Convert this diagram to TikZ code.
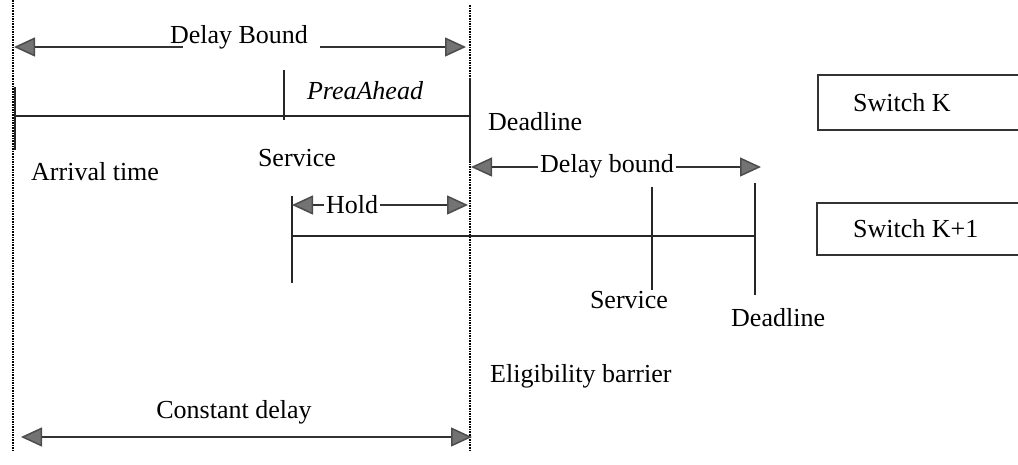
\documentclass[tikz,border=0pt]{standalone}
\usepackage{fontspec}
\setmainfont{Liberation Serif}
\usetikzlibrary{arrows.meta}
\begin{document}
\begin{tikzpicture}[x=1pt,y=-1pt,
  font=\fontsize{26}{30}\selectfont,
  >={Triangle[length=21pt,width=19pt,fill=black!55,color=black!70]},
  timeline/.style={line width=2pt, black!85},
  barrier/.style={line width=2.4pt, black, dash pattern=on 1.6pt off 1pt},
  dimline/.style={line width=1.5pt, black!80, <->},
  halfdim/.style={line width=1.5pt, black!80, ->},
  lbl/.style={inner sep=1pt},
  onlinelbl/.style={inner sep=2pt, fill=white},
  switchbox/.style={line width=1.8pt, black!80}]
\useasboundingbox (0,0) rectangle (1018,465);

% eligibility barriers (dotted verticals)
\coordinate (bl0) at (13,0);   \coordinate (bl1) at (13,452);
\coordinate (br0) at (470,5);  \coordinate (br1) at (470,452);
\draw[barrier] (bl0) -- (bl1);
\draw[barrier] (br0) -- (br1);

% switch K timeline and ticks
\coordinate (k0) at (15,116);  \coordinate (k1) at (470,116);
\draw[timeline] (k0) -- (k1);
\coordinate (ta0) at (15,87);   \coordinate (ta1) at (15,150);
\coordinate (ts0) at (284,70);  \coordinate (ts1) at (284,120);
\coordinate (td0) at (470,78);  \coordinate (td1) at (470,162);
\draw[timeline] (ta0) -- (ta1);
\draw[timeline] (ts0) -- (ts1);
\draw[timeline] (td0) -- (td1);

% switch K+1 timeline and ticks
\coordinate (m0) at (292,236);  \coordinate (m1) at (755,236);
\draw[timeline] (m0) -- (m1);
\coordinate (ua0) at (292,196); \coordinate (ua1) at (292,283);
\coordinate (us0) at (652,187); \coordinate (us1) at (652,290);
\coordinate (ud0) at (755,183); \coordinate (ud1) at (755,295);
\draw[timeline] (ua0) -- (ua1);
\draw[timeline] (us0) -- (us1);
\draw[timeline] (ud0) -- (ud1);

% Delay Bound (top)
\node[lbl] (dbtop) at (239,37) {Delay Bound};
\coordinate (dbL) at (14,47);  \coordinate (dbLg) at (183,47);
\coordinate (dbR) at (466,47); \coordinate (dbRg) at (320,47);
\draw[halfdim] (dbLg) -- (dbL);
\draw[halfdim] (dbRg) -- (dbR);

% Delay bound (switch K+1)
\coordinate (dkL) at (471,167); \coordinate (dkR) at (761,167);
\draw[dimline] (dkL) -- (dkR);
\node[onlinelbl] (dbk) at (607,166) {Delay bound};

% Hold
\coordinate (hL) at (292,205); \coordinate (hR) at (468,205);
\draw[dimline] (hL) -- (hR);
\node[onlinelbl] (hold) at (352,205) {Hold};

% Constant delay
\coordinate (cL) at (21,437); \coordinate (cR) at (472,437);
\draw[dimline] (cL) -- (cR);
\node[lbl] (cdel) at (234,412) {Constant delay};

% labels
\node[lbl] (prea) at (365,91) {\itshape PreaAhead};
\node[lbl, anchor=west] (dlK) at (487,122) {Deadline};
\node[lbl, anchor=west] (arr) at (30,172) {Arrival time};
\node[lbl] (svK) at (297,158) {Service};
\node[lbl] (svK1) at (629,300) {Service};
\node[lbl, anchor=west] (dlK1) at (730,318) {Deadline};
\node[lbl, anchor=west] (elig) at (489,376) {Eligibility barrier};

% switch boxes (open past the right edge)
\draw[switchbox] (1030,75) -- (818,75) -- (818,130) -- (1030,130);
\node[lbl, anchor=west] (swK) at (852,103) {Switch K};
\draw[switchbox] (1030,203) -- (817,203) -- (817,255) -- (1030,255);
\node[lbl, anchor=west] (swK1) at (852,229) {Switch K+1};
\end{tikzpicture}
\end{document}
